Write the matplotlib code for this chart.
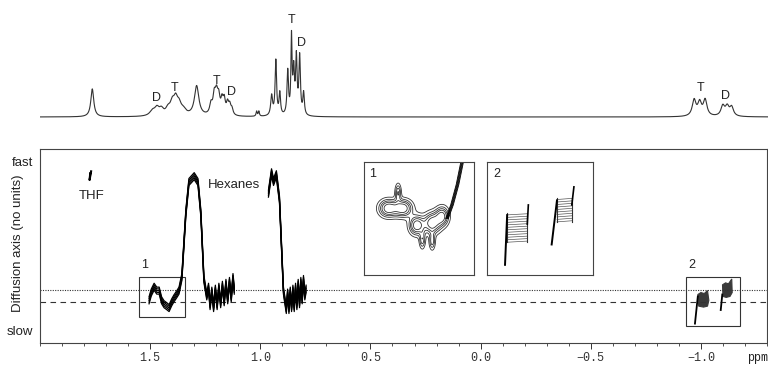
import numpy as np
import matplotlib
matplotlib.use("Agg")
import matplotlib.pyplot as plt
from matplotlib.patches import Rectangle

plt.rcParams["font.family"] = ["Liberation Sans", "DejaVu Sans"]

##################################
# Data
##################################
# 1D spectrum: peak positions (ppm), heights (px above baseline), half widths (ppm)
peak_ppm = [1.763, 1.49, 1.47, 1.45, 1.42, 1.40, 1.385, 1.37, 1.35, 1.29,
            1.225, 1.21, 1.20, 1.19, 1.175, 1.165, 1.15, 1.14, 1.13,
            1.018, 1.008, 0.95, 0.931, 0.913, 0.877, 0.86, 0.85, 0.838, 0.823, 0.805,
            -0.965, -0.99, -1.015, -1.095, -1.115, -1.135]
peak_h = [28, 5, 7, 6, 6, 12, 13, 10, 5, 30,
          10, 18, 18, 16, 13, 14, 11, 9, 6,
          5, 5, 20, 55, 22, 44, 76, 42, 56, 58, 22,
          16, 13, 16, 10, 9, 9]
peak_w = [0.008, 0.015, 0.012, 0.012, 0.012, 0.012, 0.01, 0.012, 0.015, 0.012,
          0.007, 0.007, 0.007, 0.007, 0.006, 0.006, 0.006, 0.006, 0.006,
          0.003, 0.003, 0.005, 0.004, 0.004, 0.004, 0.003, 0.004, 0.004, 0.004, 0.004,
          0.01, 0.01, 0.01, 0.01, 0.01, 0.01]

spec_labels = ["D", "T", "T", "D", "T", "D", "T", "D"]
spec_lab_ppm = [1.473, 1.392, 1.202, 1.134, 0.859, 0.814, -0.995, -1.108]
spec_lab_h = [13, 23, 30, 19, 91, 68, 23, 15]

# DOSY traces (ppm, diffusion coordinate 0 = slow, 1 = fast)
hexA_ppm = [1.505, 1.495, 1.482, 1.470, 1.459, 1.448, 1.437, 1.425, 1.414, 1.402,
            1.392, 1.380, 1.369, 1.356, 1.338, 1.324, 1.30, 1.283, 1.27, 1.256,
            1.243, 1.235, 1.228, 1.220, 1.212, 1.204, 1.196, 1.188, 1.180, 1.172,
            1.164, 1.156, 1.148, 1.140, 1.132, 1.124, 1.118]
hexA_d = [0.22, 0.26, 0.29, 0.27, 0.27, 0.22, 0.20, 0.19, 0.18, 0.21,
          0.23, 0.25, 0.27, 0.34, 0.67, 0.83, 0.86, 0.83, 0.67, 0.33,
          0.24, 0.29, 0.19, 0.27, 0.18, 0.28, 0.19, 0.29, 0.20, 0.30,
          0.21, 0.31, 0.22, 0.32, 0.23, 0.34, 0.27]

hexB_ppm = [0.963, 0.949, 0.940, 0.927, 0.913, 0.895, 0.882, 0.876, 0.870, 0.864,
            0.858, 0.852, 0.846, 0.840, 0.834, 0.828, 0.822, 0.816, 0.810, 0.804,
            0.798, 0.792]
hexB_d = [0.77, 0.88, 0.83, 0.87, 0.74, 0.27, 0.17, 0.26, 0.17, 0.27,
          0.18, 0.28, 0.18, 0.29, 0.19, 0.31, 0.20, 0.32, 0.22, 0.33,
          0.24, 0.28]

thf_ppm = [1.768, 1.775, 1.772]
thf_d = [0.885, 0.84, 0.875]

# blobs in region 2 (outline ppm, d) and tails
blob1_ppm = [-0.986, -1.000, -1.015, -1.030, -1.036, -1.030, -1.012, -0.990]
blob1_d = [0.25, 0.26, 0.255, 0.27, 0.22, 0.19, 0.185, 0.19]
tail1_ppm = [-0.986, -0.973]
tail1_d = [0.24, 0.10]
blob2_ppm = [-1.098, -1.112, -1.125, -1.140, -1.142, -1.132, -1.115, -1.100]
blob2_d = [0.30, 0.31, 0.305, 0.33, 0.26, 0.24, 0.235, 0.24]
tail2_ppm = [-1.097, -1.090]
tail2_d = [0.25, 0.17]

dotted_level = 0.273
dashed_level = 0.213

box1 = (1.342, 1.55, 0.134, 0.34)    # ppm lo, ppm hi, d lo, d hi
box2 = (-1.176, -0.932, 0.088, 0.34)

# inset 1: gaussian blobs (u, v, sx, sy, amp) in inset units
in1_u = [0.22, 0.355, 0.31, 0.48, 0.62, 0.71, 0.53, 0.62]
in1_v = [0.59, 0.59, 0.73, 0.44, 0.46, 0.52, 0.31, 0.30]
in1_sx = [0.055, 0.055, 0.018, 0.045, 0.05, 0.04, 0.018, 0.018]
in1_sy = [0.05, 0.05, 0.05, 0.055, 0.06, 0.055, 0.05, 0.05]
in1_amp = [1.0, 1.0, 0.6, 1.0, 1.0, 0.9, 0.55, 0.55]
in1_line_u = [0.755, 0.80, 0.85, 0.89]
in1_line_v = [0.50, 0.62, 0.80, 0.99]

# inset 2: two hatched blocks (u0, u1, v0, v1) plus stems
in2_blocks = [(0.19, 0.38, 0.29, 0.55), (0.66, 0.80, 0.47, 0.68)]
in2_stem_u = [(0.17, 0.19), (0.61, 0.66)]
in2_stem_v = [(0.09, 0.53), (0.27, 0.66)]
in2_spike_u = [(0.38, 0.39), (0.80, 0.82)]
in2_spike_v = [(0.45, 0.62), (0.62, 0.78)]

xticks = [1.5, 1.0, 0.5, 0.0, -0.5, -1.0]
xlim = (2.0, -1.30)

##################################
# Figure
##################################
W, H = 768, 365
fig = plt.figure(figsize=(W / 100, H / 100), dpi=100)
ink = "#222222"

def px_axes(x0, y0, x1, y1):
    # pixel box (top-left origin) -> figure axes
    return fig.add_axes([x0 / W, 1 - y1 / H, (x1 - x0) / W, (y1 - y0) / H])

# ---- top 1D spectrum
ax_top = px_axes(40, 0, 768, 125)
x = np.linspace(xlim[0], xlim[1], 6000)
y = np.zeros_like(x)
for p, h, w in zip(peak_ppm, peak_h, peak_w):
    y += h * w**2 / ((x - p) ** 2 + w**2)
ax_top.plot(x, y, color="#333333", lw=0.8)
for lab, p, h in zip(spec_labels, spec_lab_ppm, spec_lab_h):
    ax_top.text(p, h, lab, ha="center", va="bottom", fontsize=9, color=ink)
ax_top.set_xlim(*xlim)
ax_top.set_ylim(-8, 117)
ax_top.axis("off")

# ---- DOSY panel
ax = px_axes(40, 149, 767, 343)
ax.set_xlim(*xlim)
ax.set_ylim(0, 1)

ax.axhline(dotted_level, color="#333333", lw=0.8, ls=(0, (1, 1.2)))
ax.axhline(dashed_level, color="#333333", lw=0.8, ls=(0, (5, 4)))

offsets = [-0.018, -0.009, 0.0, 0.009, 0.018]
for tp, td in [(hexA_ppm, hexA_d), (hexB_ppm, hexB_d)]:
    for o in offsets:
        ax.plot(tp, np.array(td) + o, color="black", lw=0.9)
ax.plot(thf_ppm, thf_d, color="black", lw=1.5)

for bp, bd in [(blob1_ppm, blob1_d), (blob2_ppm, blob2_d)]:
    ax.fill(bp, bd, color="#3a3a3a", lw=0.8)
for tp, td in [(tail1_ppm, tail1_d), (tail2_ppm, tail2_d)]:
    ax.plot(tp, td, color="black", lw=1.3)

for b, lab in [(box1, "1"), (box2, "2")]:
    ax.add_patch(Rectangle((b[0], b[2]), b[1] - b[0], b[3] - b[2], fill=False,
                           ec="#333333", lw=0.8))
    ax.text(b[1] - 0.01, b[3] + 0.03, lab, ha="left", va="bottom", fontsize=9, color=ink)

ax.text(1.765, 0.757, "THF", ha="center", va="center", fontsize=9.5, color=ink)
ax.text(1.121, 0.814, "Hexanes", ha="center", va="center", fontsize=9.5, color=ink)

ax.set_xticks(xticks)
ax.set_xticklabels([f"{t:.1f}".replace("-", "\u2212") for t in xticks],
                   family="Liberation Mono", fontsize=8.5)
ax.set_xticks(np.arange(-1.3, 2.0001, 0.1), minor=True)
ax.tick_params(axis="x", which="major", direction="out", length=4, width=0.7, pad=2.5, colors="#333333")
ax.tick_params(axis="x", which="minor", direction="out", length=2.5, width=0.6, colors="#333333")
ax.set_yticks([0.062, 0.938])
ax.set_yticklabels(["slow", "fast"], fontsize=9.5)
ax.tick_params(axis="y", length=0, pad=5, colors=ink)
ax.set_ylabel("Diffusion axis (no units)", fontsize=9.5, color=ink)
ax.yaxis.set_label_coords(-0.022, 0.515)
for s in ax.spines.values():
    s.set_color("#444444")
    s.set_linewidth(0.8)
fig.text(747 / W, 1 - 358 / H, "ppm", family="Liberation Mono", fontsize=8.5,
         va="center", ha="left", color=ink)

# ---- inset 1
ai1 = px_axes(364, 162, 474, 275)
uu, vv = np.meshgrid(np.linspace(0, 1, 300), np.linspace(0, 1, 300))
zz = np.zeros_like(uu)
for u0, v0, sx, sy, a in zip(in1_u, in1_v, in1_sx, in1_sy, in1_amp):
    zz += a * np.exp(-((uu - u0) ** 2 / (2 * sx**2) + (vv - v0) ** 2 / (2 * sy**2)))
ai1.contour(uu, vv, zz, levels=[0.15, 0.3, 0.45, 0.6, 0.8], colors="#333333", linewidths=0.6)
for o in [-0.012, -0.006, 0.0, 0.006, 0.012]:
    ai1.plot(np.array(in1_line_u) + o, in1_line_v, color="black", lw=0.6)
ai1.text(0.05, 0.95, "1", ha="left", va="top", fontsize=9, color=ink)

# ---- inset 2
ai2 = px_axes(487, 162, 593, 275)
for (u0, u1, v0, v1), su, sv, pu, pv in zip(in2_blocks, in2_stem_u, in2_stem_v, in2_spike_u, in2_spike_v):
    for v in np.arange(v0, v1, 0.022):
        ai2.plot([u0, u1], [v, v + 0.01], color="#555555", lw=0.5)
    ai2.plot([u0, u0], [v0, v1], color="#333333", lw=0.8)
    ai2.plot([u1, u1], [v0, v1], color="#333333", lw=0.8)
    ai2.plot(su, sv, color="black", lw=1.4)
    ai2.plot(pu, pv, color="black", lw=1.2)
ai2.text(0.06, 0.95, "2", ha="left", va="top", fontsize=9, color=ink)

for a in (ai1, ai2):
    a.set_xlim(0, 1)
    a.set_ylim(0, 1)
    a.set_xticks([])
    a.set_yticks([])
    for s in a.spines.values():
        s.set_color("#444444")
        s.set_linewidth(0.8)

fig.savefig("out.png", dpi=100)
